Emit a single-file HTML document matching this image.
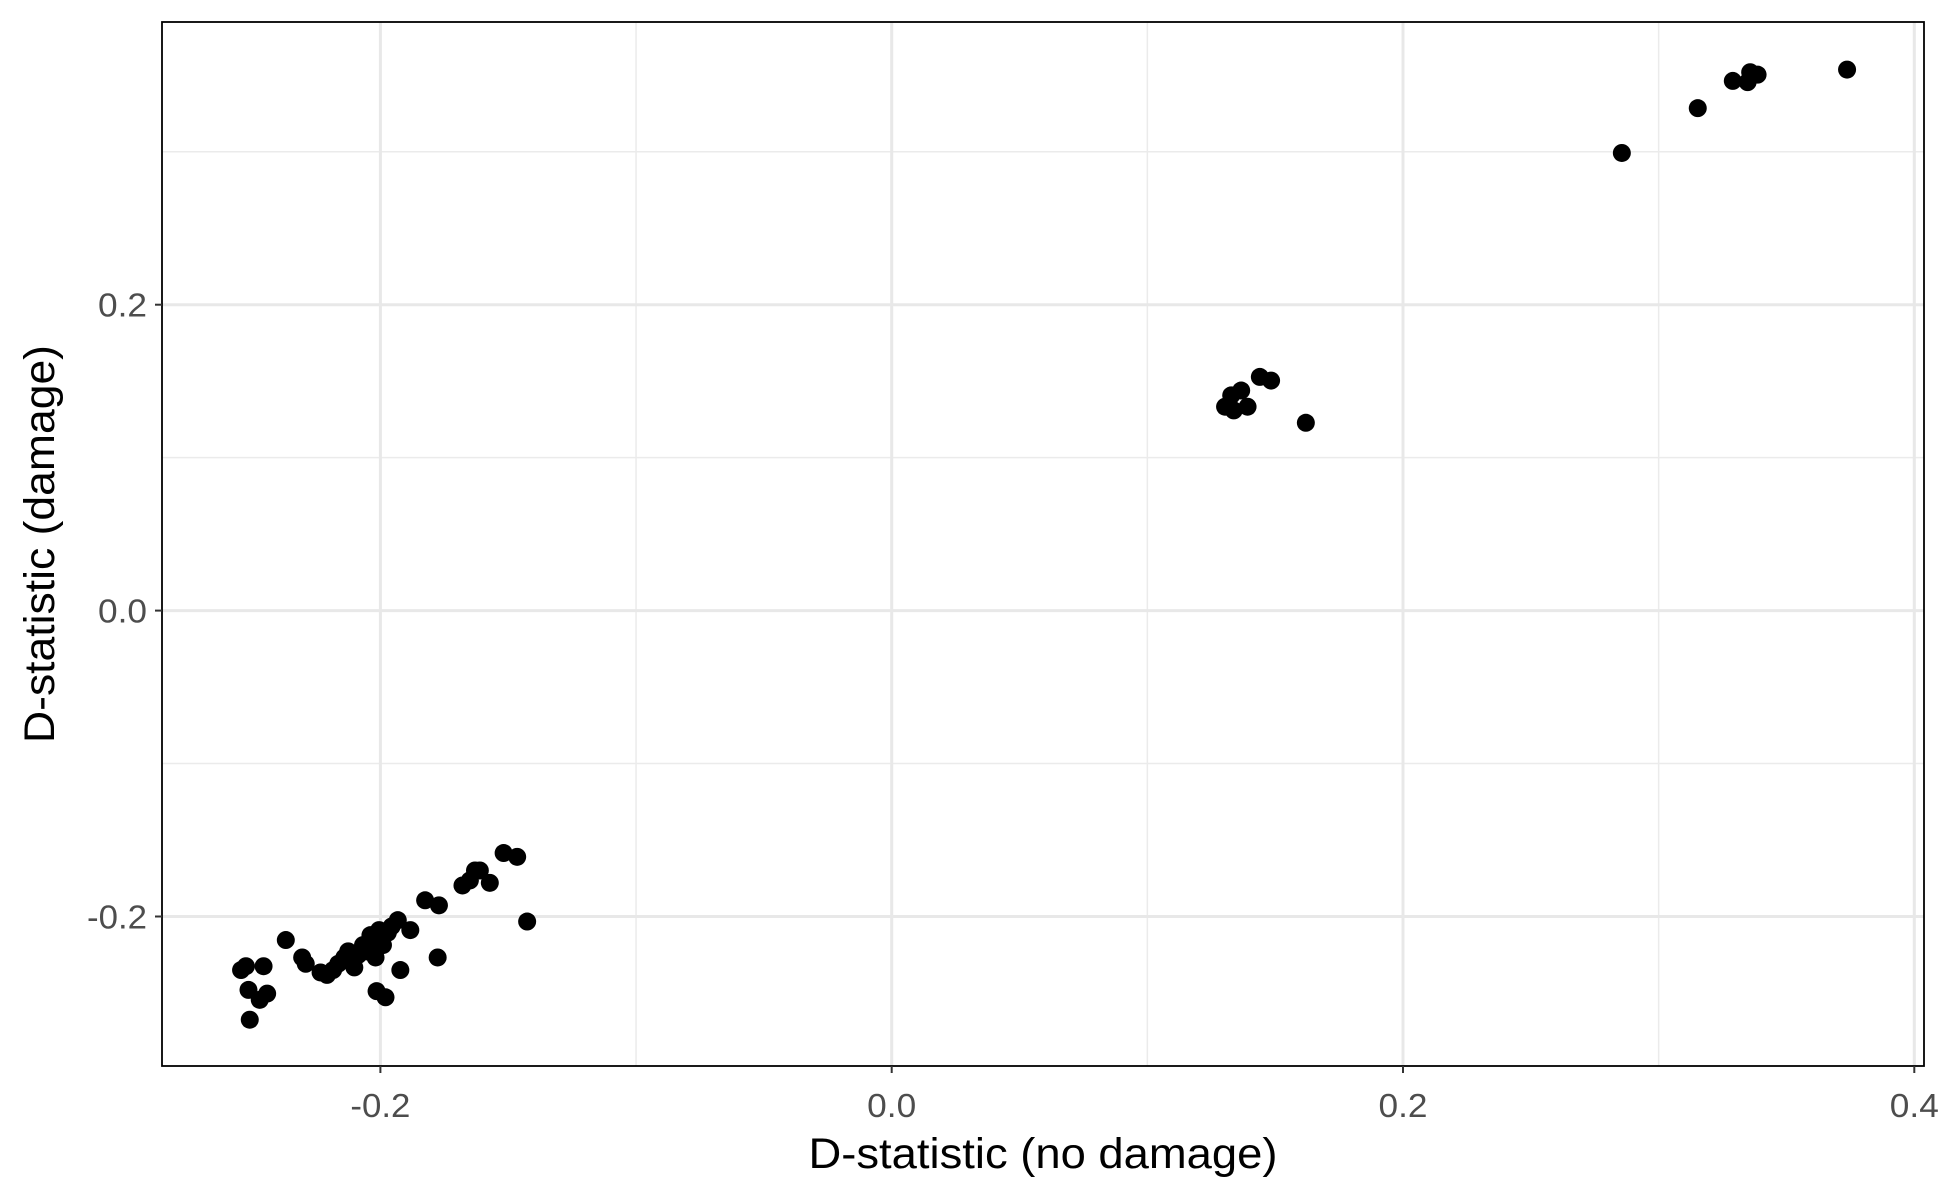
<!DOCTYPE html>
<html><head><meta charset="utf-8"><style>html,body{margin:0;padding:0;background:#fff}svg{display:block}</style></head>
<body>
<svg id="chart" width="1950" height="1200" xmlns="http://www.w3.org/2000/svg" font-family="Liberation Sans, sans-serif">
<rect width="1950" height="1200" fill="#fff"/>
<g id="grid"></g>
<g id="points"></g>
<rect x="162" y="22" width="1762" height="1044" fill="none" stroke="#000" stroke-width="1.8"/>
<g id="axes"></g>
<text x="1043" y="1168" font-size="43" text-anchor="middle" textLength="469" lengthAdjust="spacingAndGlyphs">D-statistic (no damage)</text>
<text transform="translate(54,544) rotate(-90)" font-size="43" text-anchor="middle" textLength="398" lengthAdjust="spacingAndGlyphs">D-statistic (damage)</text>
</svg>
<script>
const xValues = [-0.2545,-0.2526,-0.2516,-0.2511,-0.2472,-0.2457,-0.2443,-0.2370,-0.2306,-0.2292,-0.2234,-0.2209,-0.2185,-0.2165,-0.2141,-0.2126,-0.2102,-0.2087,-0.2068,-0.2053,-0.2039,-0.2029,-0.2019,-0.2015,-0.2005,-0.1990,-0.1980,-0.1971,-0.1956,-0.1932,-0.1922,-0.1883,-0.1825,-0.1776,-0.1771,-0.1679,-0.1650,-0.1630,-0.1611,-0.1572,-0.1518,-0.1465,-0.1426,
0.1304,0.1328,0.1338,0.1367,0.1392,0.1440,0.1484,0.1620,
0.2856,0.3153,0.3290,0.3348,0.3358,0.3387,0.3737];
const yValues = [-0.235,-0.2325,-0.248,-0.2675,-0.2545,-0.2325,-0.2504,-0.2154,-0.2268,-0.2309,-0.2366,-0.2382,-0.235,-0.2309,-0.2268,-0.2228,-0.2333,-0.2252,-0.2187,-0.2228,-0.2122,-0.2171,-0.2268,-0.2488,-0.2089,-0.2187,-0.2528,-0.2106,-0.2065,-0.2024,-0.235,-0.2089,-0.1894,-0.2268,-0.1927,-0.1797,-0.1764,-0.1699,-0.1699,-0.1780,-0.1585,-0.1610,-0.2033,
0.1333,0.1407,0.1309,0.1439,0.1333,0.1528,0.1504,0.1228,
0.2992,0.3285,0.3463,0.3455,0.3520,0.3504,0.3537];
const xTicks = [-0.2, 0.0, 0.2, 0.4];
const xTickLabels = ["-0.2","0.0","0.2","0.4"];
const yTicks = [-0.2, 0.0, 0.2];
const yTickLabels = ["-0.2","0.0","0.2"];
const xMinor = [-0.1, 0.1, 0.3];
const yMinor = [-0.1, 0.1, 0.3];

const X0=162, X1=1924, Y0=22, Y1=1066;
function sx(v){ return 891.7 + v*(1403-891.7)/0.2; }
function sy(v){ return 610.6 - v*(610.6-304.7)/0.2; }
const NS="http://www.w3.org/2000/svg";
function mk(tag, attrs, parent){ const e=document.createElementNS(NS,tag); for(const k in attrs) e.setAttribute(k,attrs[k]); parent.appendChild(e); return e; }
const grid=document.getElementById('grid'), pts=document.getElementById('points'), axes=document.getElementById('axes');

xMinor.forEach(v=>{ const l=mk('line',{x1:sx(v),x2:sx(v),y1:Y0,y2:Y1,stroke:'#ebebeb','stroke-width':1.5},grid);

 });
yMinor.forEach(v=>{ const l=mk('line',{x1:X0,x2:X1,y1:sy(v),y2:sy(v),stroke:'#ebebeb','stroke-width':1.5},grid);

 });
xTicks.forEach((v,i)=>{
  const l=mk('line',{x1:sx(v),x2:sx(v),y1:Y0,y2:Y1,stroke:'#e8e8e8','stroke-width':3},grid);
  
  
  const t=mk('line',{x1:sx(v),x2:sx(v),y1:Y1,y2:Y1+7,stroke:'#333','stroke-width':2},axes);
  
  
  const tx=mk('text',{x:sx(v),y:1117,'font-size':33,'text-anchor':'middle',fill:'#4d4d4d',textLength:(xTickLabels[i].length===4?60:49),lengthAdjust:'spacingAndGlyphs'},axes);
  tx.textContent=xTickLabels[i];
  
  
});
yTicks.forEach((v,i)=>{
  const l=mk('line',{x1:X0,x2:X1,y1:sy(v),y2:sy(v),stroke:'#e8e8e8','stroke-width':3},grid);
  
  
  const t=mk('line',{x1:X0-7,x2:X0,y1:sy(v),y2:sy(v),stroke:'#333','stroke-width':2},axes);
  
  
  const tx=mk('text',{x:147,y:sy(v)+12,'font-size':33,'text-anchor':'end',fill:'#4d4d4d',textLength:(yTickLabels[i].length===4?60:49),lengthAdjust:'spacingAndGlyphs'},axes);
  tx.textContent=yTickLabels[i];
  
  
});
xValues.forEach((v,i)=>{
  const c=mk('circle',{cx:sx(v),cy:sy(yValues[i]),r:9,fill:'#000'},pts);
  
  
});
</script>
</body></html>
